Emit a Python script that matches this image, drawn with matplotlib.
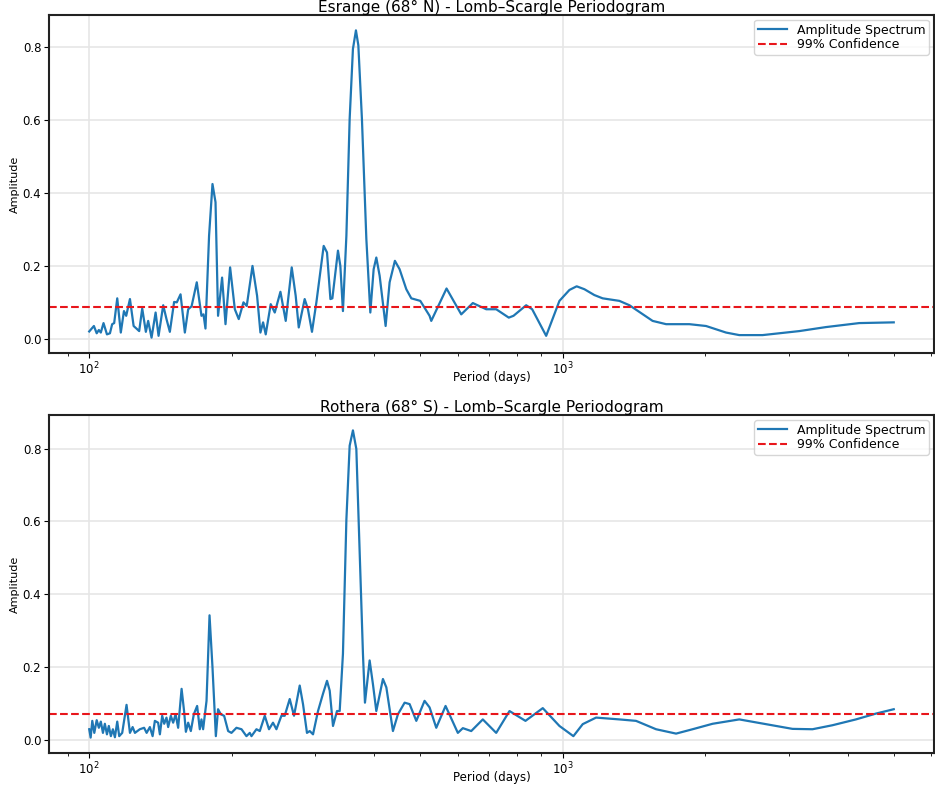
import matplotlib
matplotlib.use("Agg")
import matplotlib.pyplot as plt

# --- Esrange (68 N) ---
esr_period = [100, 102.3, 103.7, 104.8, 105.8, 107.2, 109.0, 110.6, 111.8, 112.9,
              114.6, 116.6, 118.4, 119.7, 121.9, 124.1, 126.3, 127.5, 129.4, 131.7,
              133.2, 135.4, 138.1, 140.1, 143.3, 145.6, 148.0, 151.1, 153.1, 155.9,
              159.2, 161.8, 164.5, 168.7, 172.6, 174.3, 176.0, 179.1, 182.1, 184.8,
              187.1, 190.8, 194.0, 198.4, 203.0, 206.9, 211.7, 215.1, 221.2, 226.2,
              229.9, 232.9, 235.9, 241.7, 246.5, 253.4, 260.0, 267.7, 272.9, 277.0,
              285.1, 289.7, 295.4, 301.8, 312.7, 317.8, 323.1, 326.2, 335.2, 339.1,
              343.4, 349.2, 354.8, 360.5, 365.8, 370.1, 376.6, 384.8, 392.3, 398.7,
              403.9, 410.5, 422.6, 430.9, 442.1, 452.3, 467.3, 478.8, 500.2, 523.3,
              527.6, 568.3, 610.4, 645.8, 689.3, 723.5, 769.2, 787.0, 837.1, 861.8,
              922.5, 984.0, 1033, 1070, 1111, 1166, 1214, 1317, 1383, 1548,
              1653, 1851, 2007, 2212, 2359, 2642, 3158, 3595, 4227, 5000]
esr_amp = [0.020, 0.035, 0.015, 0.024, 0.017, 0.043, 0.012, 0.015, 0.040, 0.043,
           0.111, 0.017, 0.076, 0.063, 0.109, 0.035, 0.026, 0.021, 0.083, 0.019,
           0.049, 0.003, 0.072, 0.008, 0.092, 0.054, 0.019, 0.101, 0.100, 0.122,
           0.017, 0.081, 0.089, 0.155, 0.063, 0.067, 0.028, 0.283, 0.425, 0.375,
           0.063, 0.168, 0.040, 0.196, 0.081, 0.054, 0.100, 0.090, 0.200, 0.118,
           0.017, 0.045, 0.012, 0.095, 0.072, 0.129, 0.049, 0.196, 0.118, 0.031,
           0.109, 0.081, 0.019, 0.100, 0.255, 0.237, 0.109, 0.111, 0.242, 0.200,
           0.076, 0.283, 0.604, 0.796, 0.847, 0.806, 0.604, 0.274, 0.072, 0.191,
           0.223, 0.173, 0.035, 0.155, 0.214, 0.191, 0.136, 0.111, 0.104, 0.063,
           0.049, 0.138, 0.067, 0.098, 0.081, 0.081, 0.058, 0.063, 0.092, 0.081,
           0.008, 0.104, 0.134, 0.144, 0.136, 0.120, 0.111, 0.104, 0.092, 0.049,
           0.040, 0.040, 0.035, 0.017, 0.010, 0.010, 0.021, 0.032, 0.043, 0.045]
esr_conf = 0.087

# --- Rothera (68 S) ---
rot_period = [100, 100.7, 101.5, 102.5, 103.7, 104.8, 105.8, 106.9, 107.9, 109.0,
              110.0, 111.1, 112.2, 113.3, 114.6, 115.7, 117.4, 119.9, 121.9, 123.5,
              124.9, 127.9, 130.6, 132.2, 134.3, 136.1, 137.6, 139.8, 141.0, 142.6,
              144.0, 145.6, 146.8, 148.7, 150.4, 152.2, 154.1, 156.7, 158.6, 160.0,
              161.8, 163.9, 166.3, 169.0, 171.2, 172.6, 174.0, 176.9, 179.5, 182.1,
              185.1, 187.1, 189.6, 192.7, 196.5, 199.7, 204.6, 209.7, 214.8, 218.3,
              220.1, 225.5, 229.2, 234.8, 239.7, 244.4, 248.5, 254.6, 258.7, 265.1,
              270.7, 278.3, 282.8, 288.3, 292.2, 296.9, 304.2, 311.6, 317.8, 322.0,
              327.2, 333.6, 338.0, 343.4, 349.2, 354.8, 360.5, 366.5, 372.5, 378.5,
              382.2, 391.0, 397.3, 403.9, 417.1, 424.1, 437.9, 448.6, 463.5, 474.9,
              490.6, 510.7, 523.3, 540.6, 565.6, 600.4, 615.2, 640.8, 677.9, 723.5,
              771.8, 834.2, 907.4, 984.0, 1053, 1102, 1176, 1317, 1428, 1574,
              1735, 1880, 2072, 2359, 2820, 3056, 3368, 3712, 4160, 4585, 5000]
rot_amp = [0.029, 0.006, 0.052, 0.019, 0.054, 0.033, 0.050, 0.019, 0.044, 0.015,
           0.038, 0.010, 0.029, 0.007, 0.050, 0.010, 0.019, 0.096, 0.019, 0.035,
           0.019, 0.029, 0.033, 0.019, 0.035, 0.010, 0.052, 0.047, 0.015, 0.066,
           0.044, 0.061, 0.035, 0.066, 0.047, 0.070, 0.033, 0.140, 0.079, 0.022,
           0.047, 0.024, 0.070, 0.093, 0.029, 0.056, 0.029, 0.107, 0.342, 0.199,
           0.010, 0.084, 0.070, 0.066, 0.024, 0.019, 0.033, 0.029, 0.010, 0.019,
           0.010, 0.029, 0.024, 0.066, 0.029, 0.047, 0.029, 0.066, 0.066, 0.112,
           0.066, 0.149, 0.098, 0.019, 0.024, 0.015, 0.079, 0.126, 0.162, 0.135,
           0.038, 0.079, 0.079, 0.236, 0.605, 0.808, 0.850, 0.799, 0.513, 0.236,
           0.102, 0.218, 0.153, 0.079, 0.167, 0.144, 0.024, 0.070, 0.102, 0.098,
           0.052, 0.107, 0.089, 0.033, 0.093, 0.019, 0.032, 0.024, 0.056, 0.019,
           0.079, 0.052, 0.087, 0.038, 0.010, 0.043, 0.061, 0.056, 0.052, 0.029,
           0.017, 0.029, 0.044, 0.056, 0.038, 0.030, 0.029, 0.040, 0.056, 0.072, 0.084]
rot_conf = 0.072

titles = ["Esrange (68° N) - Lomb–Scargle Periodogram",
          "Rothera (68° S) - Lomb–Scargle Periodogram"]

fig = plt.figure(figsize=(9.35, 7.85), dpi=100)
ax1 = fig.add_axes([0.0524, 0.5503, 0.9465, 0.4306])
ax2 = fig.add_axes([0.0524, 0.0408, 0.9465, 0.4305])

for ax, per, amp, conf, title in [(ax1, esr_period, esr_amp, esr_conf, titles[0]),
                                  (ax2, rot_period, rot_amp, rot_conf, titles[1])]:
    ax.plot(per, amp, color="#1f77b4", lw=1.6, label="Amplitude Spectrum")
    ax.axhline(conf, color="#e8161b", ls="--", lw=1.5, label="99% Confidence")
    ax.set_xscale("log")
    ax.set_title(title, fontsize=11, pad=2)
    ax.set_xlabel("Period (days)", fontsize=8.5)
    ax.xaxis.set_label_coords(0.5, -0.053)
    ax.set_ylabel("Amplitude", fontsize=8, labelpad=2)
    ax.tick_params(labelsize=8.5, pad=2)
    ax.set_yticks([0.0, 0.2, 0.4, 0.6, 0.8])
    ax.grid(True, which="major", color="#e6e6e6", lw=1.2)
    ax.set_axisbelow(True)
    for s in ax.spines.values():
        s.set_linewidth(1.5)
        s.set_color("#222222")
    ax.legend(loc="upper right", fontsize=9, framealpha=0.8, borderpad=0.3,
              handlelength=2.3, labelspacing=0.1, borderaxespad=0.4)

fig.savefig("out.png", dpi=100)
